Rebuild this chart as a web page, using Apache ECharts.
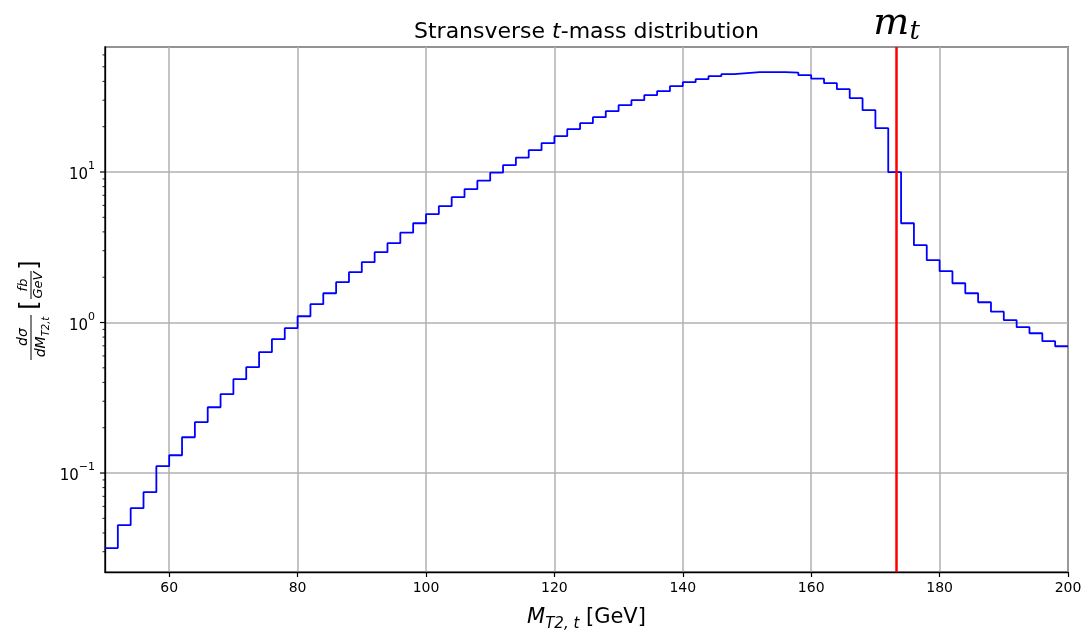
<!DOCTYPE html>
<html>
<head>
<meta charset="utf-8">
<script src="https://cdn.jsdelivr.net/npm/echarts@6/dist/echarts.min.js"></script>
<style>
html,body{margin:0;padding:0;background:#fff;}
#chart{width:1086px;height:632px;}
</style>
</head>
<body>
<div id="chart"></div>
<script>
// ---- data ----
const binStart = 50;
const binWidth = 2;
const binValues = [
  0.0317, 0.0450, 0.0584, 0.0746, 0.1110, 0.1313, 0.1729, 0.2176, 0.2736, 0.3339,
  0.4200, 0.5047, 0.6349, 0.7745, 0.9166, 1.101, 1.323, 1.565, 1.853, 2.159,
  2.516, 2.932, 3.365, 3.951, 4.568, 5.243, 5.928, 6.801, 7.686, 8.756,
  9.893, 11.10, 12.45, 13.96, 15.54, 17.29, 19.25, 21.10, 23.13, 25.35,
  27.79, 30.00, 32.38, 34.43, 37.17, 39.51, 41.37, 43.31, 44.66, 45.35,
  46.05, 46.05, 46.05, 45.70, 43.98, 41.69, 38.90, 35.50, 30.94, 25.74,
  19.54, 9.97, 4.568, 3.263, 2.594, 2.192, 1.824, 1.565, 1.364, 1.180,
  1.036, 0.9307, 0.8489, 0.7513, 0.6958
];
const topMass = 173.3;
const xTickLabels = [60, 80, 100, 120, 140, 160, 180, 200];
const yMajorTicks = [0.1, 1, 10];
const yMinorTicks = [0.03,0.04,0.05,0.06,0.07,0.08,0.09,
                     0.2,0.3,0.4,0.5,0.6,0.7,0.8,0.9,
                     2,3,4,5,6,7,8,9,
                     20,30,40,50,60];
const xMin = 50, xMax = 200, yMin = 0.022, yMax = 67.7;

// ---- build ----
const stepData = binValues.map((v, i) => [binStart + i * binWidth, v]);
stepData.push([binStart + binValues.length * binWidth, binValues[binValues.length - 1]]);

const tickData = yMajorTicks.map(v => [xMin, v, 5]).concat(yMinorTicks.map(v => [xMin, v, 2.5]));

const FONT = '"DejaVu Sans", sans-serif';
const chart = echarts.init(document.getElementById('chart'), null, {renderer: 'canvas'});

const supLabel = function (v) {
  if (yMajorTicks.every(t => Math.abs(t - v) / t > 1e-6)) return '';
  const e = Math.round(Math.log10(v));
  const s = e < 0 ? '\u2212' + (-e) : String(e);
  return '{a|10}{b|' + s + '}';
};

chart.setOption({
  animation: false,
  backgroundColor: '#ffffff',
  title: {
    text: '{a|Stransverse }{b|t}{a|-mass distribution}',
    left: 409,
    top: 16,
    textStyle: {
      fontWeight: 'normal',
      rich: {
        a: {fontFamily: FONT, fontSize: 22, fontWeight: 'normal', color: '#000'},
        b: {fontFamily: FONT, fontSize: 22, fontWeight: 'normal', fontStyle: 'italic', color: '#000'}
      }
    }
  },
  grid: {
    left: 105, right: 18, top: 47, bottom: 60,
    containLabel: false,
    outerBoundsMode: 'none',
    show: true, borderColor: '#000', borderWidth: 1.3, backgroundColor: 'transparent'
  },
  xAxis: {
    type: 'value',
    min: xMin, max: xMax,
    splitNumber: 8,
    axisLine: {show: true, lineStyle: {color: '#000', width: 1.3}},
    axisTick: {show: true, customValues: xTickLabels, length: 5, lineStyle: {color: '#000', width: 1.2}},
    axisLabel: {customValues: xTickLabels, color: '#000', fontFamily: FONT, fontSize: 14, margin: 9},
    splitLine: {show: true, lineStyle: {color: '#b0b0b0', width: 1.5}},
    name: '{m|M}{s|T2, t}{g| [GeV]}',
    nameLocation: 'middle',
    nameGap: 31,
    nameTextStyle: {
      rich: {
        m: {fontFamily: FONT, fontSize: 21, fontStyle: 'italic', color: '#000', lineHeight: 28, verticalAlign: 'middle'},
        s: {fontFamily: FONT, fontSize: 15, fontStyle: 'italic', color: '#000', lineHeight: 29, verticalAlign: 'bottom'},
        g: {fontFamily: FONT, fontSize: 21, color: '#000', lineHeight: 28, verticalAlign: 'middle'}
      }
    }
  },
  yAxis: {
    type: 'log',
    logBase: 10,
    min: yMin, max: yMax,
    axisLine: {show: true, lineStyle: {color: '#000', width: 1.3}},
    axisTick: {show: false},
    axisLabel: {
      color: '#000', margin: 10,
      formatter: supLabel,
      showMinLabel: false, showMaxLabel: false,
      rich: {
        a: {fontFamily: FONT, fontSize: 15, color: '#000', lineHeight: 22, verticalAlign: 'bottom'},
        b: {fontFamily: FONT, fontSize: 11, color: '#000', lineHeight: 22, verticalAlign: 'top'}
      }
    },
    splitLine: {show: true, lineStyle: {color: '#b0b0b0', width: 1.5}}
  },
  series: [
    {
      type: 'line',
      data: stepData,
      step: 'end',
      showSymbol: false,
      symbol: 'none',
      lineStyle: {color: '#0000ff', width: 1.8},
      z: 3,
      markLine: {
        silent: true,
        symbol: ['none', 'none'],
        lineStyle: {color: '#ff0000', width: 2.5, type: 'solid'},
        label: {
          show: true,
          position: 'end',
          distance: 2,
          formatter: '{m|m}{t|t}',
          rich: {
            m: {fontFamily: '"DejaVu Serif", serif', fontStyle: 'italic', fontSize: 38, color: '#000', lineHeight: 42, verticalAlign: 'middle'},
            t: {fontFamily: '"DejaVu Serif", serif', fontStyle: 'italic', fontSize: 26, color: '#000', lineHeight: 42, verticalAlign: 'bottom'}
          }
        },
        data: [{xAxis: topMass}]
      }
    },
    {
      type: 'custom',
      data: tickData,
      clip: false,
      silent: true,
      encode: {x: 0, y: 1},
      renderItem: function (params, api) {
        const p = api.coord([api.value(0), api.value(1)]);
        const len = api.value(2);
        return {
          type: 'line',
          shape: {x1: p[0] - len, y1: p[1], x2: p[0], y2: p[1]},
          style: {stroke: '#000', lineWidth: len > 3 ? 1.2 : 0.9}
        };
      },
      z: 5
    }
  ],
  graphic: [{
    type: 'group',
    x: 31, y: 311,
    rotation: Math.PI / 2,
    children: [
      {type: 'text', x: -26, y: -1, style: {text: 'd\u03c3', font: 'italic 14px "DejaVu Sans"', fill: '#000', align: 'center', verticalAlign: 'bottom'}},
      {type: 'line', shape: {x1: -49, y1: 0, x2: -4, y2: 0}, style: {stroke: '#000', lineWidth: 1}},
      {type: 'text', x: -26, y: 1, style: {
        text: '{a|dM}{b|T2,t}', align: 'center', verticalAlign: 'top',
        rich: {
          a: {font: 'italic 14px "DejaVu Sans"', fill: '#000', lineHeight: 16, verticalAlign: 'middle'},
          b: {font: 'italic 10px "DejaVu Sans"', fill: '#000', lineHeight: 19, verticalAlign: 'bottom'}
        }
      }},
      {type: 'text', x: 6, y: 0, style: {text: '[', font: '24px "DejaVu Sans"', fill: '#000', align: 'center', verticalAlign: 'middle'}},
      {type: 'text', x: 26, y: -1, style: {text: 'fb', font: 'italic 13px "DejaVu Sans"', fill: '#000', align: 'center', verticalAlign: 'bottom'}},
      {type: 'line', shape: {x1: 12, y1: 0, x2: 40, y2: 0}, style: {stroke: '#000', lineWidth: 1}},
      {type: 'text', x: 26, y: 1, style: {text: 'GeV', font: 'italic 13px "DejaVu Sans"', fill: '#000', align: 'center', verticalAlign: 'top'}},
      {type: 'text', x: 46, y: 0, style: {text: ']', font: '24px "DejaVu Sans"', fill: '#000', align: 'center', verticalAlign: 'middle'}}
    ]
  }]
});
</script>
</body>
</html>
